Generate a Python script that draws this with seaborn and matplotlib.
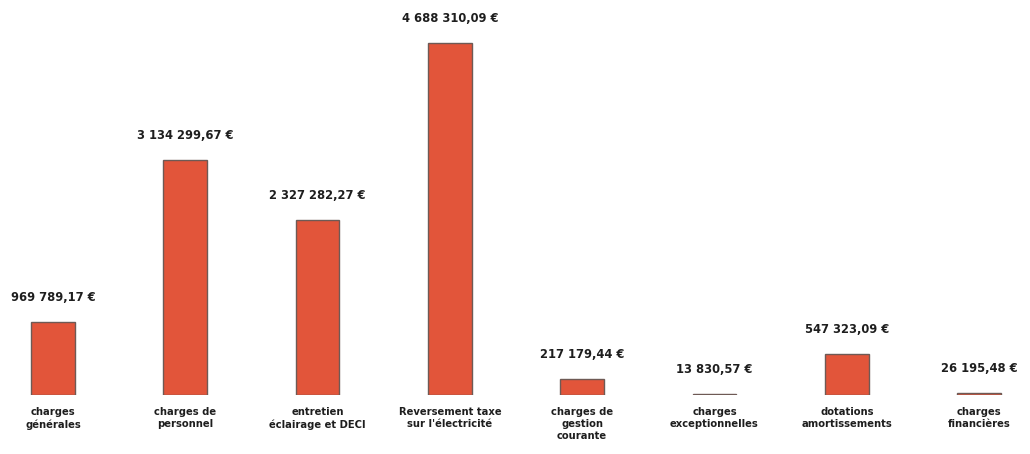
import pandas as pd
import matplotlib
matplotlib.use("Agg")
import matplotlib.pyplot as plt
import seaborn as sns

# =========================
# Data
# =========================

categories = [
    "charges\ngénérales",
    "charges de\npersonnel",
    "entretien\néclairage et DECI",
    "Reversement taxe\nsur l'électricité",
    "charges de\ngestion\ncourante",
    "charges\nexceptionnelles",
    "dotations\namortissements",
    "charges\nfinancières",
]

amounts = [
    969789.17,
    3134299.67,
    2327282.27,
    4688310.09,
    217179.44,
    13830.57,
    547323.09,
    26195.48,
]

value_labels = [
    "969 789,17 €",
    "3 134 299,67 €",
    "2 327 282,27 €",
    "4 688 310,09 €",
    "217 179,44 €",
    "13 830,57 €",
    "547 323,09 €",
    "26 195,48 €",
]

df = pd.DataFrame({
    "Poste": categories,
    "Montant": amounts
})

# =========================
# Plot
# =========================

sns.set_theme(style="white")
plt.rcParams["font.family"] = ["DejaVu Sans"]

fig = plt.figure(figsize=(10.3, 4.54), dpi=100)
ax = fig.add_axes([0, 0.13, 1, 0.87])

sns.barplot(
    data=df,
    x="Poste",
    y="Montant",
    color="#E2553A",
    width=0.33,
    edgecolor="#6e5a55",
    linewidth=1.0,
    saturation=1,
    ax=ax
)

for i, (v, lab) in enumerate(zip(amounts, value_labels)):
    ax.annotate(
        lab,
        xy=(i, v),
        xytext=(0, 13),
        textcoords="offset points",
        ha="center",
        va="bottom",
        fontsize=8.3,
        fontweight="bold",
        color="#1e1e1e"
    )

ax.set_xlim(-0.40, 7.385)
ax.set_ylim(0, 5.26e6)

ax.set_xlabel("")
ax.set_ylabel("")
ax.set_yticks([])
ax.tick_params(axis="x", length=0, pad=9)
for t in ax.get_xticklabels():
    t.set_fontsize(7.2)
    t.set_fontweight("bold")
    t.set_color("#1e1e1e")
    t.set_linespacing(1.25)

sns.despine(ax=ax, left=True, bottom=True)

fig.savefig("out.png", dpi=100)
